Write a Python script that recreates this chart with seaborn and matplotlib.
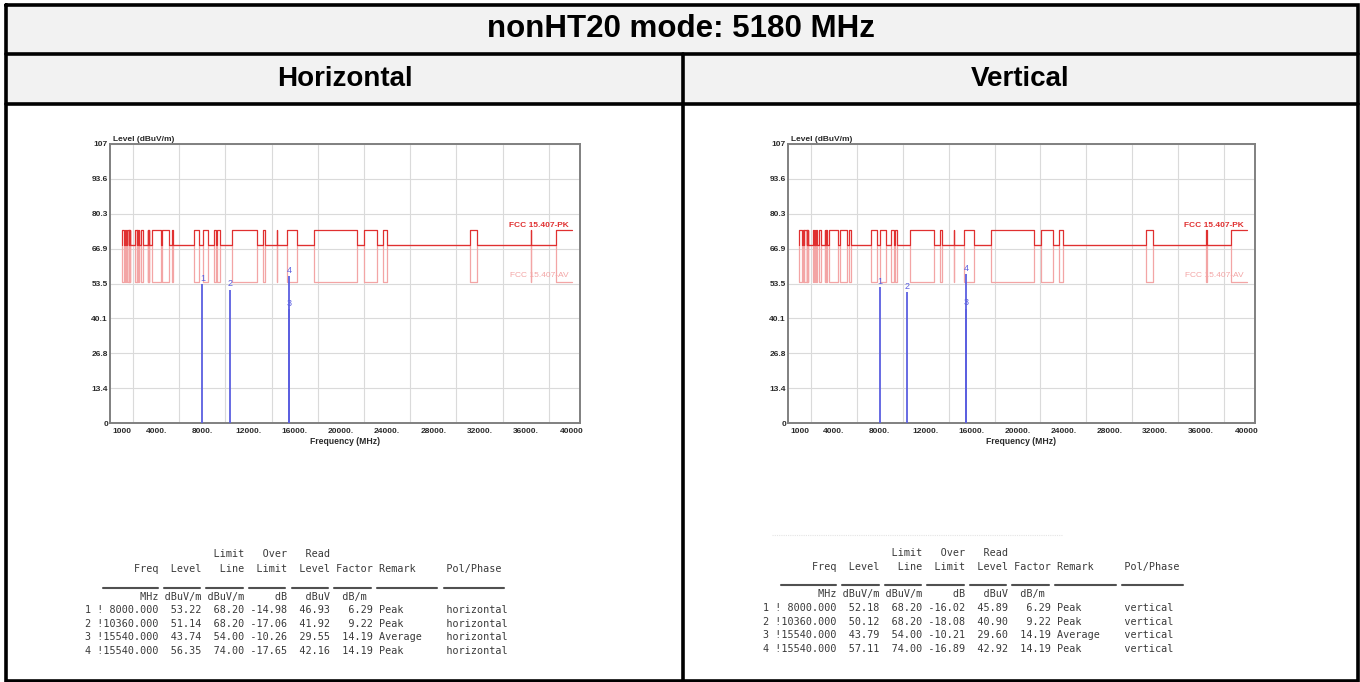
import numpy as np
import pandas as pd
import matplotlib
matplotlib.use("Agg")
import matplotlib.pyplot as plt
from matplotlib.patches import Rectangle
import seaborn as sns

# ---------------- data ----------------
TITLE = "nonHT20 mode: 5180 MHz"
PANELS = ["Horizontal", "Vertical"]
POLS = ["horizontal", "vertical"]

# restricted bands (MHz) where the limit lines switch level
band_start = [1000, 1300, 1435, 1645.5, 1660, 1718.8, 2200, 2310, 2483.5, 2690,
              3260, 3332, 3345.8, 3600, 4500, 5350, 7250, 8025, 9000, 9300,
              10600, 13250, 14470, 15350, 17700, 22010, 23600, 31200, 36430, 38600]
band_end = [1240, 1427, 1626.5, 1646.5, 1710, 1722.2, 2300, 2390, 2500, 2900,
            3267, 3339, 3358, 4400, 5150, 5460, 7750, 8500, 9200, 9500,
            12700, 13400, 14500, 16200, 21400, 23120, 24000, 31800, 36500, 40000]
pk_restricted = 74.0
av_restricted = 54.0
limit_general = 68.2
freq_stop = 40000

y_ticks = [0, 13.4, 26.8, 40.1, 53.5, 66.9, 80.3, 93.6, 107]
y_tick_labels = ["0", "13.4", "26.8", "40.1", "53.5", "66.9", "80.3", "93.6", "107"]
x_ticks = [1000, 4000, 8000, 12000, 16000, 20000, 24000, 28000, 32000, 36000, 40000]
x_tick_labels = ["1000", "4000.", "8000.", "12000.", "16000.", "20000.", "24000.",
                 "28000.", "32000.", "36000.", "40000"]

marker_no = [1, 2, 3, 4]
marker_freq = [8000.0, 10360.0, 15540.0, 15540.0]
factor = [6.29, 9.22, 14.19, 14.19]
remark = ["Peak", "Peak", "Average", "Peak"]
limit_line = [68.20, 68.20, 54.00, 74.00]

h_level = [53.22, 51.14, 43.74, 56.35]
h_over = [-14.98, -17.06, -10.26, -17.65]
h_read = [46.93, 41.92, 29.55, 42.16]

v_level = [52.18, 50.12, 43.79, 57.11]
v_over = [-16.02, -18.08, -10.21, -16.89]
v_read = [45.89, 40.90, 29.60, 42.92]

# ---------------- style ----------------
sns.set_style("white")
plt.rcParams['font.family'] = ['Liberation Sans', 'DejaVu Sans']
plt.rcParams['text.color'] = 'black'

W, H = 1360, 682
fig = plt.figure(figsize=(W / 100, H / 100), dpi=100)
fig.patch.set_facecolor("white")

bg = fig.add_axes([0, 0, 1, 1], zorder=0)
bg.set_xlim(0, W)
bg.set_ylim(H, 0)
bg.axis("off")

# table frame
bg.add_patch(Rectangle((6, 5), 1352, 98.5, facecolor="#f2f2f2", edgecolor="none"))
lw_b = 2.6
bg.plot([6, 1358, 1358, 6, 6], [5, 5, 681, 681, 5], color="black", lw=lw_b,
        solid_joinstyle="miter")
bg.plot([6, 1358], [53.5, 53.5], color="black", lw=lw_b)
bg.plot([6, 1358], [103.5, 103.5], color="black", lw=lw_b)
bg.plot([683, 683], [53.5, 681], color="black", lw=lw_b)

bg.text(681, 29, TITLE, ha="center", va="center", fontsize=22.5, fontweight="bold", color="black")
bg.text(344.5, 79, PANELS[0], ha="center", va="center", fontsize=20, fontweight="bold", color="black")
bg.text(1020.5, 79, PANELS[1], ha="center", va="center", fontsize=20, fontweight="bold", color="black")

PK_COLOR = "#e03030"
AV_COLOR = "#f3a5a5"
BLUE = "#5b5fe0"
TXT = "#2a2a2a"


def limit_df(level_in):
    xs, ys = [], []
    for a, b in zip(band_start, band_end):
        xs += [a, a, b]
        ys += [limit_general, level_in, level_in]
        if b < freq_stop:
            xs.append(b)
            ys.append(limit_general)
    return pd.DataFrame({"freq": xs, "level": ys})


def draw_chart(ax, levels):
    ax.set_facecolor("white")
    sns.lineplot(data=limit_df(av_restricted), x="freq", y="level", sort=False,
                 estimator=None, color=AV_COLOR, linewidth=0.9, ax=ax, zorder=3)
    sns.lineplot(data=limit_df(pk_restricted), x="freq", y="level", sort=False,
                 estimator=None, color=PK_COLOR, linewidth=0.9, ax=ax, zorder=4)
    ax.vlines(marker_freq, 0, levels, colors=BLUE, lw=1.3, zorder=5)
    for n, f, l in zip(marker_no, marker_freq, levels):
        ax.annotate(str(n), (f, l), xytext=(0, 1), textcoords="offset points",
                    ha="center", va="bottom", fontsize=6.5, color=BLUE, zorder=6)
    ax.text(39700, 75.8, "FCC 15.407-PK", ha="right", va="center", fontsize=6,
            fontweight="bold", color=PK_COLOR, zorder=7)
    ax.text(39700, 56.5, "FCC 15.407-AV", ha="right", va="center", fontsize=6,
            color=AV_COLOR, zorder=7)

    ax.set_xlim(0, 40700)
    ax.set_ylim(0, 107)
    ax.set_xticks(x_ticks)
    ax.set_xticklabels(x_tick_labels)
    ax.set_xticks([1000] + list(range(2000, 40001, 2000)), minor=True)
    ax.set_yticks(y_ticks)
    ax.set_yticklabels(y_tick_labels)
    for lab in ax.get_xticklabels() + ax.get_yticklabels():
        lab.set_fontweight("bold")
        lab.set_fontsize(6)
        lab.set_color(TXT)
    ax.tick_params(axis="both", which="both", length=0)
    ax.tick_params(axis="x", pad=3.5)
    ax.tick_params(axis="y", pad=1.5)
    ax.grid(False)
    ax.grid(True, which="minor", axis="x", color="#dadada", lw=0.8)
    ax.grid(True, which="major", axis="y", color="#dadada", lw=0.8)
    ax.set_axisbelow(True)
    for s in ax.spines.values():
        s.set_visible(True)
        s.set_color("#808080")
        s.set_linewidth(1.4)
    ax.set_xlabel("")
    ax.set_ylabel("")
    ax.text(0.006, 1.004, "Level (dBuV/m)", transform=ax.transAxes, ha="left",
            va="bottom", fontsize=6, fontweight="bold", color=TXT)
    ax.text(0.5, -0.068, "Frequency (MHz)", transform=ax.transAxes, ha="center",
            va="center", fontsize=6.2, fontweight="bold", color=TXT)


axL = fig.add_axes([110 / W, (H - 423) / H, 470 / W, 279 / H], zorder=2)
axR = fig.add_axes([788 / W, (H - 423) / H, 467 / W, 279 / H], zorder=2)
draw_chart(axL, h_level)
draw_chart(axR, v_level)

# ---------------- text tables ----------------
CW = 6.08  # px per char
MONO = dict(family="DejaVu Sans Mono", fontsize=7.3, color="#3a3a3a", ha="left", va="center")


def draw_table(x0, ys, levels, overs, reads, pol):
    hdr1 = f"{'':12}{'':7}{'Limit':>7}{'Over':>7}{'Read':>7}"
    hdr2 = (f"{'Freq':>12}{'Level':>7}{'Line':>7}{'Limit':>7}{'Level':>7}"
            f"{'Factor':>7} {'Remark':<11}{'Pol/Phase'}")
    units = f"{'MHz':>12}{'dBuV/m':>7}{'dBuV/m':>7}{'dB':>7}{'dBuV':>7}{'dB/m':>6}"
    bg.text(x0, ys[0], hdr1, **MONO)
    bg.text(x0, ys[1], hdr2, **MONO)
    for c0, c1 in [(3, 12), (13, 19), (20, 26), (27, 33), (34, 40), (41, 47), (48, 58), (59, 69)]:
        bg.plot([x0 + c0 * CW, x0 + c1 * CW], [ys[2], ys[2]], color="#505050", lw=1.5)
    bg.text(x0, ys[3], units, **MONO)
    for i in range(4):
        row = (f"{marker_no[i]} !{marker_freq[i]:>9.3f}{levels[i]:>7.2f}{limit_line[i]:>7.2f}"
               f"{overs[i]:>7.2f}{reads[i]:>7.2f}{factor[i]:>7.2f} {remark[i]:<11}{pol}")
        bg.text(x0, ys[4 + i], row, **MONO)


draw_table(84.8, [554, 569, 588, 597, 610, 624, 637, 651], h_level, h_over, h_read, POLS[0])
draw_table(763.0, [553, 567, 585, 594, 608, 622, 635, 649], v_level, v_over, v_read, POLS[1])
bg.plot([772, 1062], [535, 535], color="#e4e4e4", lw=0.8, ls=(0, (1, 1)))

fig.savefig("out.png", dpi=100)
